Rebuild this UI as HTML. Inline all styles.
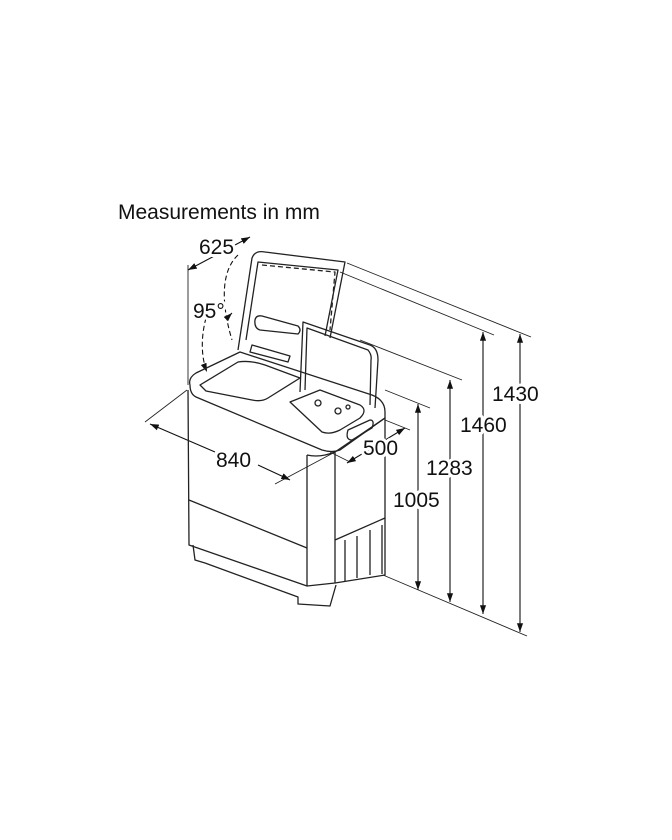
<!DOCTYPE html>
<html><head><meta charset="utf-8"><style>
html,body{margin:0;padding:0;background:#fff;}
svg{display:block;}
text{font-family:"Liberation Sans",Arial,sans-serif;fill:#111;}
.lb text{stroke:#fff;stroke-width:6px;paint-order:stroke;stroke-linejoin:round;}
</style></head><body>
<svg width="672" height="840" viewBox="0 0 672 840" xmlns="http://www.w3.org/2000/svg">
<defs>
<marker id="a" viewBox="0 0 10 10" refX="10" refY="5" markerWidth="8" markerHeight="8" orient="auto-start-reverse"><path d="M0,1.5 L10,5 L0,8.5 z" fill="#111"/></marker>
</defs>
<text x="118" y="219" font-size="21">Measurements in mm</text>

<g stroke="#222" stroke-width="0.9" fill="none">
<line x1="347" y1="263" x2="531" y2="337"/>
<line x1="340" y1="272" x2="494" y2="335"/>
<line x1="360" y1="340" x2="462" y2="380"/>
<line x1="385" y1="390" x2="430" y2="408"/>
<line x1="383" y1="575" x2="527" y2="636"/>
<line x1="188" y1="265" x2="188" y2="385"/>
<line x1="187" y1="390" x2="145" y2="422"/>
<line x1="335" y1="452" x2="275" y2="484"/>
<line x1="385" y1="420" x2="410" y2="430"/>
<line x1="330" y1="452" x2="350" y2="462"/>
</g>
<g stroke="#111" stroke-width="1.1" fill="none">
<line x1="520" y1="334" x2="520" y2="632" marker-start="url(#a)" marker-end="url(#a)"/>
<line x1="483" y1="332" x2="483" y2="614" marker-start="url(#a)" marker-end="url(#a)"/>
<line x1="450" y1="380" x2="450" y2="602" marker-start="url(#a)" marker-end="url(#a)"/>
<line x1="418" y1="404" x2="418" y2="590" marker-start="url(#a)" marker-end="url(#a)"/>
<line x1="188" y1="270" x2="250" y2="237" marker-start="url(#a)" marker-end="url(#a)"/>
<path d="M150,424 L215,452 M258,465 L286,478" marker-start="url(#a)"/>
<line x1="286" y1="478" x2="290" y2="480" marker-end="url(#a)"/>
<line x1="405" y1="428" x2="347" y2="463" marker-start="url(#a)" marker-end="url(#a)"/>
<path d="M238,255 C222,270 220,300 232,340" stroke-dasharray="5,3"/>
<path d="M206,318 C200,340 202,360 207,372" stroke-dasharray="5,3" marker-end="url(#a)"/>
<line x1="229" y1="316" x2="232" y2="313" marker-end="url(#a)"/>
</g>
<g stroke="#222" stroke-width="1.3" fill="none" stroke-linejoin="round">
<path d="M190,385 Q188,378 196,373 L240,352 L372,395 Q385,400 385,412 L385,418 L340,450 Q332,453 322,450 L196,397 Q190,394 190,385 z"/>
<path d="M200,385 L238,362 Q250,360 265,365 L300,378 L268,398 Q262,402 252,400 L206,391 z"/>
<path d="M290,402 L320,390 L360,405 Q368,410 360,418 L340,430 Q330,435 322,432 z"/>
<path d="M188,390 L189,545 L307,586 L307,455"/>
<path d="M189,500 L307,548"/>
<path d="M307,455 Q320,458 335,452 L335,583 L307,586"/>
<path d="M335,452 L385,418 L385,575 L335,583"/>
<path d="M335,540 L385,518"/>
<path d="M193,545 L195,560 L205,563 L298,597 L298,604 L330,606 L336,585"/>
<path d="M345,540 L345,582 M357,536 L357,578 M370,530 L370,575 M382,525 L382,574"/>
<path d="M348,430 L370,420 Q375,420 372,428 L352,440 Q345,440 348,430 z"/>
<path d="M238,350 L252,258 Q255,250 265,252 L345,262 L330,338"/>
<path d="M246,340 L258,262 L338,270 L325,336"/>
<path d="M262,265 L335,272 L330,330" stroke-dasharray="5,3"/>
<path d="M255,320 Q256,315 262,316 L298,326 Q302,330 298,334 L260,330 Q254,328 255,320 z"/>
<path d="M252,345 L290,356 L288,362 L250,352 z"/>
<path d="M300,392 L303,322 L370,345 Q378,348 378,360 L375,408"/>
<path d="M305,390 L307,328 L368,350 Q372,355 371,360 L370,405"/>
<circle cx="318" cy="403" r="3"/><circle cx="338" cy="411" r="3"/><circle cx="348" cy="407" r="2"/>
</g>
<g font-size="21" class="lb">
<text x="199" y="254">625</text>
<text x="193" y="318">95°</text>
<text x="216" y="467">840</text>
<text x="363" y="455">500</text>
<text x="393" y="507">1005</text>
<text x="426" y="475">1283</text>
<text x="460" y="432">1460</text>
<text x="492" y="401">1430</text>
</g>
</svg>
</body></html>
